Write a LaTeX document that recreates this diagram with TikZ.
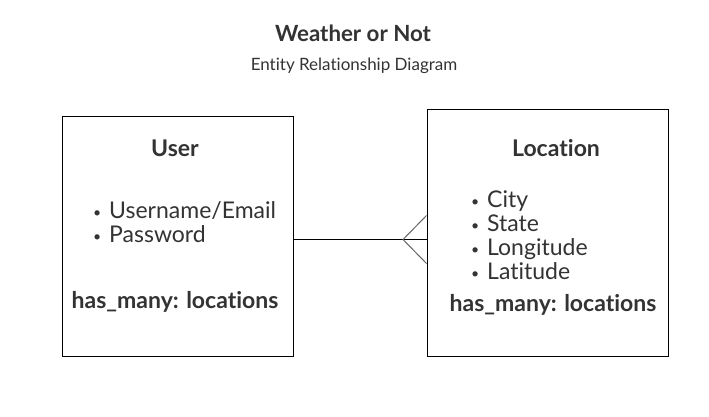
\documentclass[tikz,border=0pt]{standalone}
\usepackage{fontspec}
\setmainfont{Lato}[Ligatures=CommonOff]
\usetikzlibrary{positioning,calc}
\definecolor{ink}{HTML}{333333}
\definecolor{crow}{HTML}{666666}
\tikzset{line width=1pt,
  every node/.style={text=ink},
  entity/.style={draw=black,line width=1pt,inner sep=0pt},
  heading/.style={font=\fontsize{23}{27}\selectfont\bfseries,anchor=base},
  attr/.style={font=\fontsize{23}{27}\selectfont,anchor=base west,inner sep=0pt},
  relation/.style={draw=black,line width=1pt},
  foot/.style={draw=crow,line width=1pt}}
\newcommand{\bul}{\makebox[16pt][l]{\raisebox{1pt}{\fontsize{14}{14}\selectfont•}}}

\begin{document}
\begin{tikzpicture}[x=1pt,y=-1pt]
\useasboundingbox[fill=white](0,0)rectangle(709,416);
\node[font=\fontsize{22.3}{26}\selectfont\bfseries,anchor=base](title)at(353,41){Weather or Not};
\node[font=\fontsize{17}{20}\selectfont,anchor=base](subtitle)at(354,70){Entity Relationship Diagram};
% entities
\node[entity,minimum width=231pt,minimum height=240pt](user)at(177.5,236){};
\node[entity,minimum width=241pt,minimum height=247pt](loc)at(547.5,232.5){};
\node[heading](user-head)at(175,156){User};
\node[heading](loc-head)at(556,156){Location};
\foreach \attrib [count=\i] in {Username/Email,Password}
  \node[attr](user-\i)at(93,{194+24*\i}){\bul\attrib};
\foreach \attrib [count=\i] in {City,State,Longitude,Latitude}
  \node[attr](loc-\i)at(471,{183+24*\i}){\bul\attrib};
\node[heading](user-rel)at(175,308){has\_many: locations};
\node[heading](loc-rel)at(553,311){has\_many: locations};
% relationship
\coordinate(foot)at(403,239.5);
\draw[relation](user.east|-foot)--(loc.west|-foot);
\draw[foot]($(loc.west|-foot)+(0,-24)$)--(foot)--($(loc.west|-foot)+(0,24)$);
\end{tikzpicture}
\end{document}
